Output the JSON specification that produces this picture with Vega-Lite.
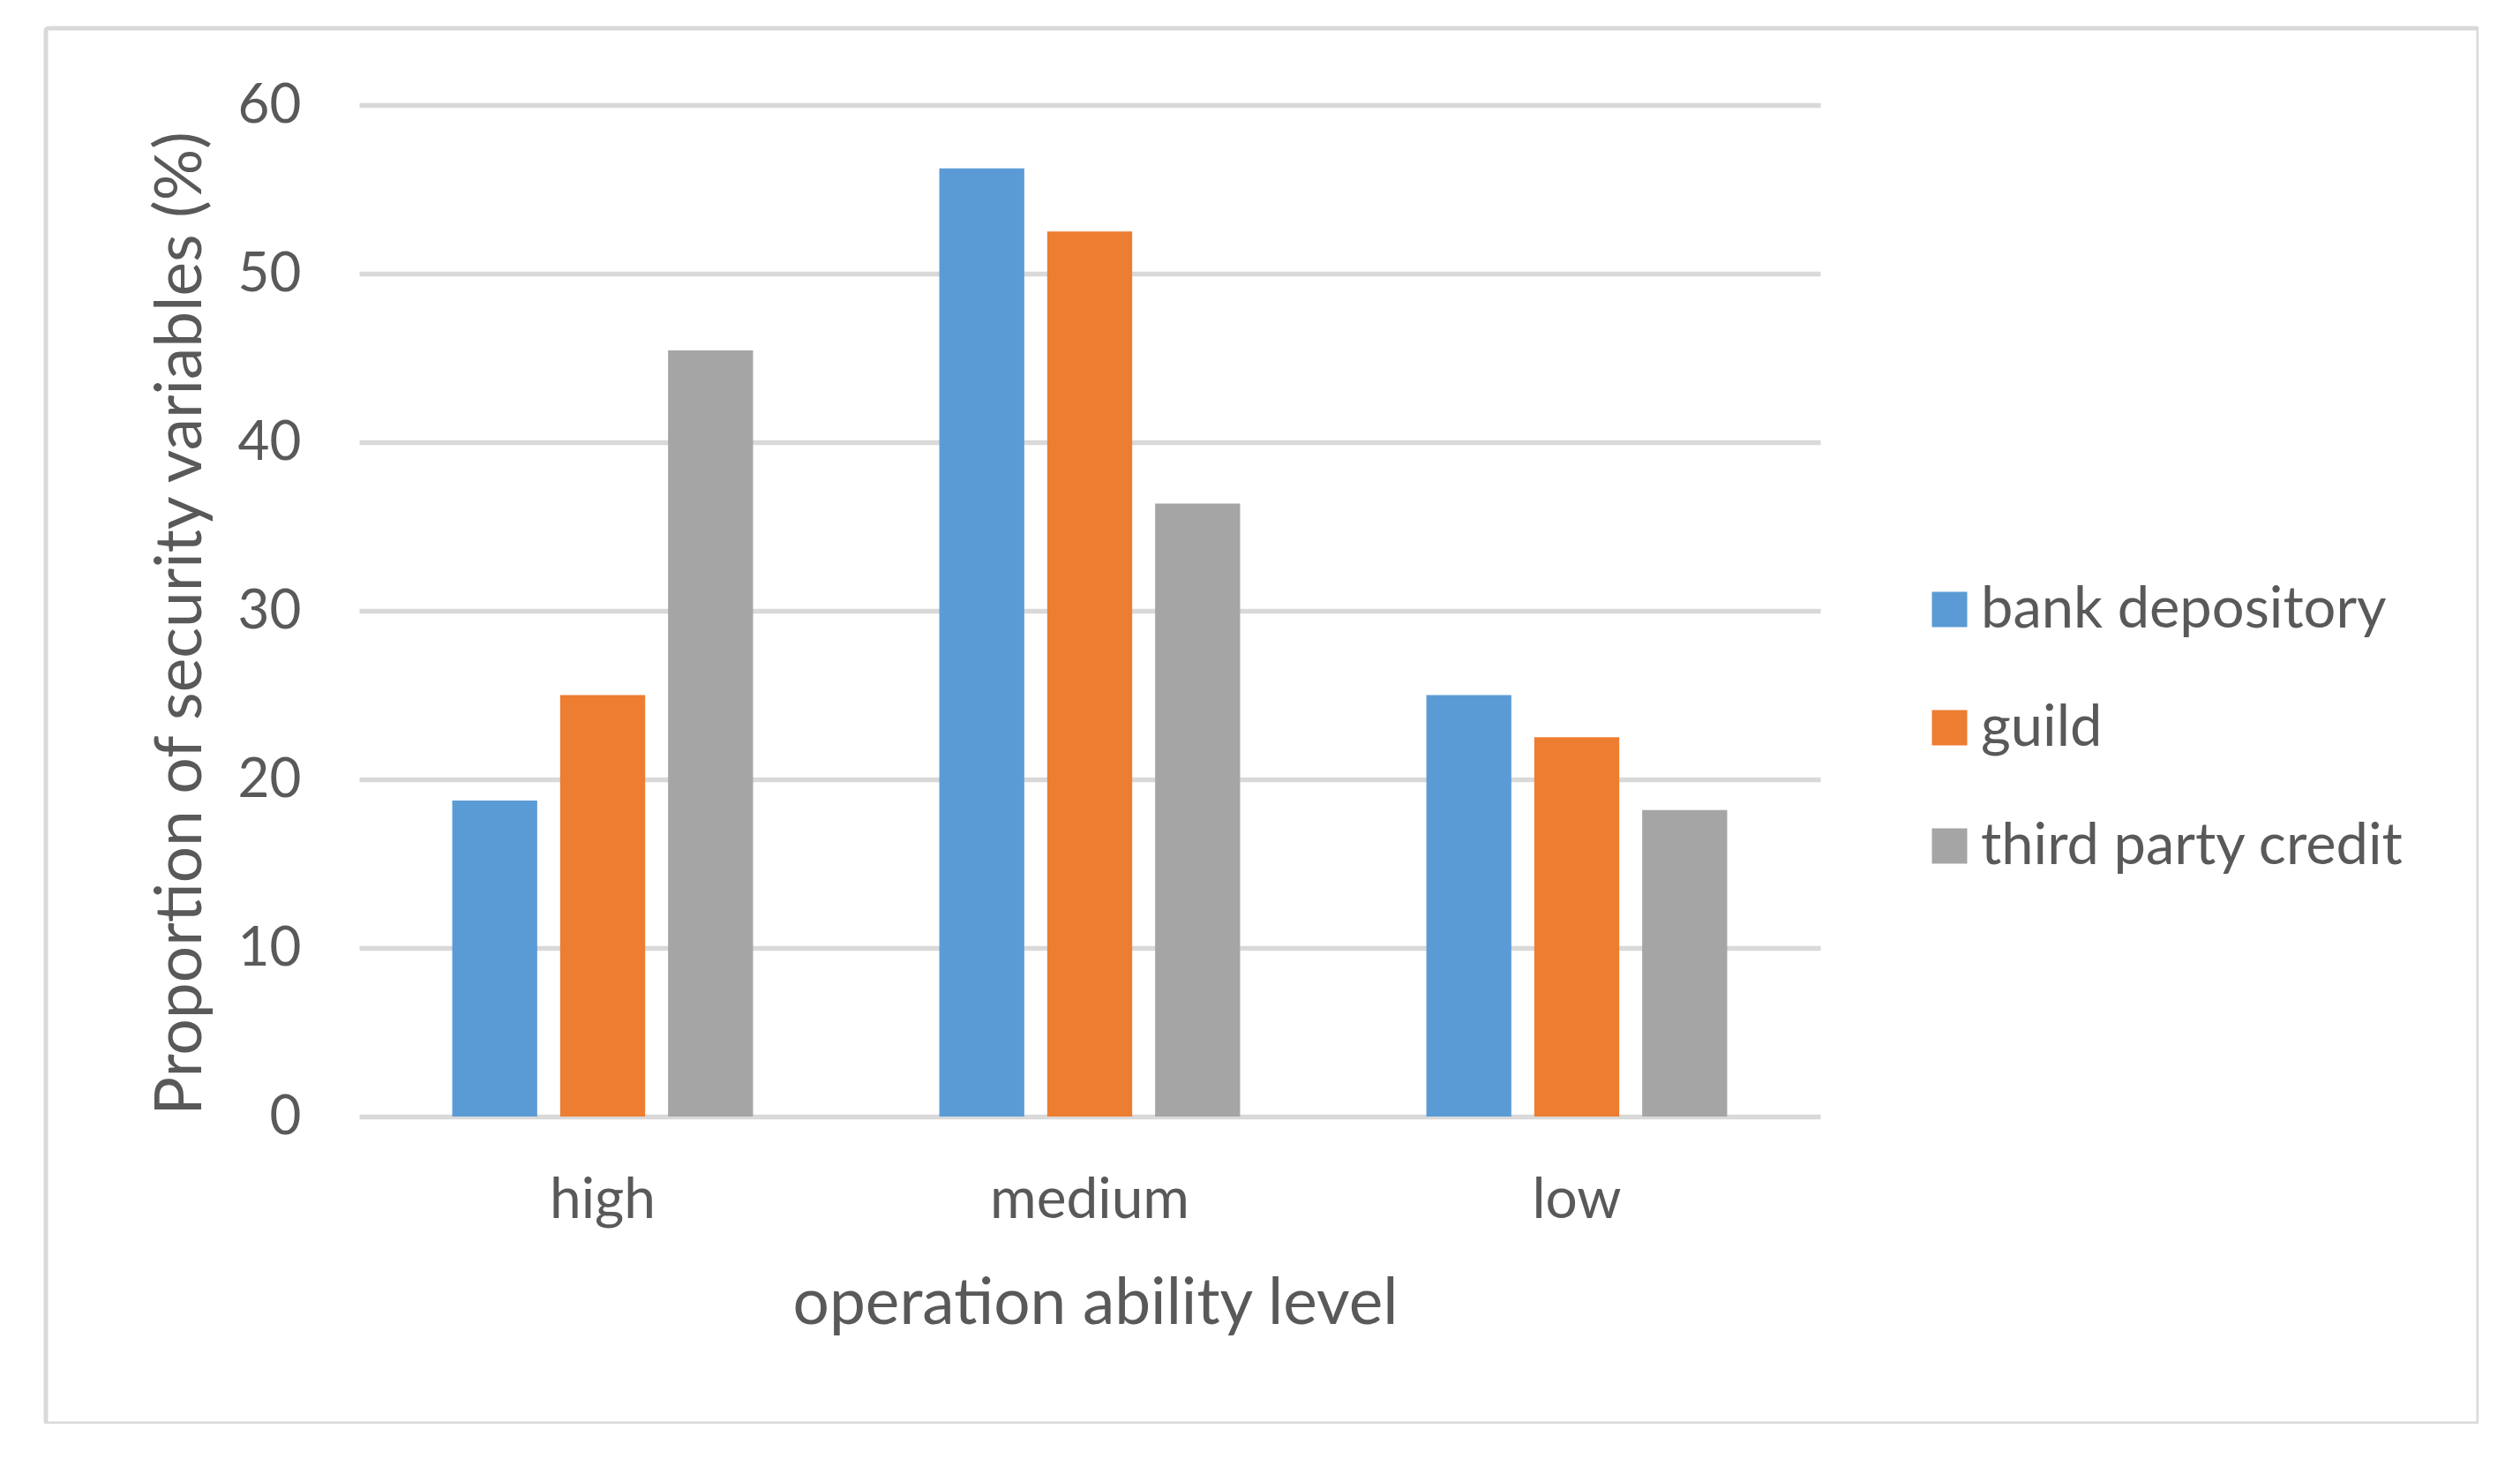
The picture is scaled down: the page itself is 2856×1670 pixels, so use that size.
{
  "$schema": "https://vega.github.io/schema/vega-lite/v6.json",
  "autosize": {"type": "none"},
  "padding": {"left": 52, "top": 32, "right": 0, "bottom": 0},
  "width": 2757,
  "height": 1581,
  "background": "white",
  "config": {
    "font": "Lato",
    "view": {"stroke": "#D9D9D9", "strokeWidth": 5, "cornerRadius": 3},
    "axis": {"labelColor": "#595959", "titleColor": "#595959", "labelFont": "Lato", "titleFont": "Lato"},
    "legend": {"labelColor": "#595959", "labelFont": "Lato"}
  },
  "data": {
    "values": [
      {"level": "high", "type": "bank depository", "value": 18.75},
      {"level": "high", "type": "guild", "value": 25},
      {"level": "high", "type": "third party credit", "value": 45.45},
      {"level": "medium", "type": "bank depository", "value": 56.25},
      {"level": "medium", "type": "guild", "value": 52.5},
      {"level": "medium", "type": "third party credit", "value": 36.36},
      {"level": "low", "type": "bank depository", "value": 25},
      {"level": "low", "type": "guild", "value": 22.5},
      {"level": "low", "type": "third party credit", "value": 18.18}
    ]
  },
  "mark": {"type": "bar"},
  "encoding": {
    "x": {
      "field": "level", "type": "nominal", "sort": ["high", "medium", "low"],
      "scale": {"range": [355, 2011], "paddingInner": 0, "paddingOuter": 0},
      "axis": {
        "title": "operation ability level", "titleFontSize": 73, "titleFontWeight": "normal",
        "labelFontSize": 64, "labelAngle": 0, "labelLimit": 0, "ticks": false, "domain": false,
        "offset": -348, "labelPadding": 63,
        "titleX": 1189, "titleY": 212, "titleBaseline": "middle", "titleAnchor": "middle"
      }
    },
    "xOffset": {
      "field": "type", "type": "nominal", "sort": ["bank depository", "guild", "third party credit"],
      "scale": {"paddingInner": 0.2126, "paddingOuter": 0.863}
    },
    "y": {
      "field": "value", "type": "quantitative",
      "scale": {"domain": [0, 60], "range": [1233, 87], "nice": false, "zero": true},
      "axis": {
        "title": "Proportion of security variables (%)", "titleFontSize": 73, "titleFontWeight": "normal",
        "values": [0, 10, 20, 30, 40, 50, 60], "labelFontSize": 62,
        "ticks": false, "domain": false, "offset": -355, "labelPadding": 66,
        "grid": true, "gridColor": "#D9D9D9", "gridWidth": 5.5,
        "titleX": -202, "titleY": 674, "titleAngle": -90, "titleBaseline": "middle", "titleAnchor": "middle"
      }
    },
    "color": {
      "field": "type", "type": "nominal", "sort": ["bank depository", "guild", "third party credit"],
      "scale": {"range": ["#5B9BD5", "#ED7D31", "#A5A5A5"]},
      "legend": {
        "title": null, "orient": "none", "legendX": 2125, "legendY": 626,
        "symbolType": "square", "symbolSize": 1600, "symbolStrokeWidth": 0,
        "labelFontSize": 65, "labelOffset": 3, "labelLimit": 0, "rowPadding": 68
      }
    }
  }
}
